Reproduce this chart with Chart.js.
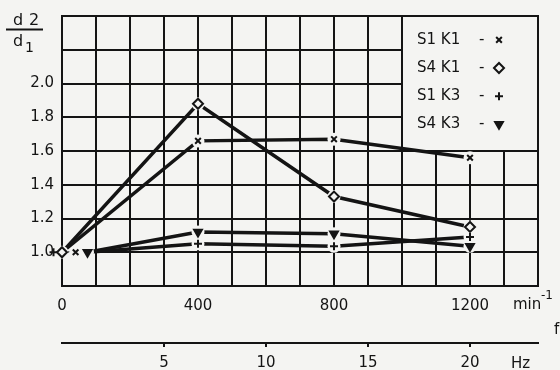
<!DOCTYPE html>
<html>
<head>
<meta charset="utf-8">
<title>d2/d1 over n</title>
<script src="https://cdn.jsdelivr.net/npm/chart.js@4.4.1/dist/chart.umd.min.js"></script>
<style>
  body { margin: 0; background: #f4f4f2; }
  #wrap { width: 560px; height: 370px; }
</style>
</head>
<body>
<div id="wrap"><canvas id="chart" width="560" height="370"></canvas></div>
<script>
// speed n in min^-1 (f in Hz = n / 60)
const rpm = [0, 400, 800, 1200];
const s1k1 = [1.0, 1.66, 1.67, 1.56];
const s4k1 = [1.0, 1.88, 1.33, 1.15];
const s1k3 = [1.0, 1.05, 1.035, 1.09];
const s4k3 = [1.0, 1.12, 1.11, 1.035];

// at n = 0 all four are 1.0, but in the drawing the symbols are spread out
// and the K3 lines only start right of them (read off in min^-1)
const lineStartRpm = { s1k1: 0, s4k1: 0, s1k3: 75, s4k3: 75 };
const markStartRpm = { s1k1: 40, s4k1: 0, s1k3: -25, s4k3: 75 };

const rpmLabels = [0, 400, 800, 1200];
const hzLabels = [5, 10, 15, 20];
const yLabels = [1.0, 1.2, 1.4, 1.6, 1.8, 2.0];
const seriesNames = ['S1 K1', 'S4 K1', 'S1 K3', 'S4 K3'];

const INK = '#141414';
const BG = '#f4f4f2';
const FONT = 'DejaVu Sans';

const series = [
  { key: 's1k1', vals: s1k1, pointStyle: 'crossRot', radius: 4, rotation: 0, fill: 'transparent' },
  { key: 's4k1', vals: s4k1, pointStyle: 'rectRot', radius: 5, rotation: 0, fill: 'transparent' },
  { key: 's1k3', vals: s1k3, pointStyle: 'cross', radius: 4, rotation: 0, fill: 'transparent' },
  { key: 's4k3', vals: s4k3, pointStyle: 'triangle', radius: 4.5, rotation: 180, fill: INK }
];

const datasets = [];
series.forEach(s => {
  const linePts = rpm.map((x, i) => ({ x: i === 0 ? lineStartRpm[s.key] : x, y: s.vals[i] }));
  // reversed so chart.js does not drop the symbol left of n = 0
  const markPts = rpm.map((x, i) => ({ x: i === 0 ? markStartRpm[s.key] : x, y: s.vals[i] })).reverse();
  datasets.push({
    data: linePts, showLine: true, borderColor: INK, borderWidth: 3.5,
    pointRadius: 0, order: 3
  });
  // paper coloured halo so the lines stop short of the symbols
  // (big hover radius only widens the in-area check so the symbol at n < 0 is drawn)
  datasets.push({
    data: markPts, showLine: false, pointStyle: 'circle', pointHoverRadius: 14,
    pointRadius: c => (c.raw && c.raw.x < 0 ? 0 : 6.5),
    pointBackgroundColor: BG, pointBorderWidth: 0, order: 2, clip: false
  });
  datasets.push({
    data: markPts, showLine: false, pointStyle: s.pointStyle, pointRadius: s.radius, pointHoverRadius: 14,
    pointRotation: s.rotation, pointBackgroundColor: s.fill, pointBorderColor: INK,
    pointBorderWidth: 2, order: 1, clip: false
  });
});

const paper = {
  id: 'paper',
  beforeDraw(chart) {
    const ctx = chart.ctx;
    ctx.save();
    ctx.fillStyle = BG;
    ctx.fillRect(0, 0, chart.width, chart.height);
    ctx.restore();
  },
  beforeDatasetsDraw(chart) {
    // key box in the upper right, sitting on the grid
    const ctx = chart.ctx;
    const area = chart.chartArea;
    const left = chart.scales.x.getPixelForValue(1000);
    const bottom = chart.scales.y.getPixelForValue(1.6);
    ctx.save();
    ctx.fillStyle = BG;
    ctx.fillRect(left, area.top, area.right - left, bottom - area.top);
    ctx.strokeStyle = INK;
    ctx.lineWidth = 2;
    ctx.strokeRect(left, area.top, area.right - left, bottom - area.top);
    ctx.font = '15px ' + FONT;
    ctx.textBaseline = 'middle';
    const rowH = (bottom - area.top) / 4.8;
    series.forEach((s, i) => {
      const yy = area.top + rowH * (0.85 + i * 1.0);
      ctx.fillStyle = INK;
      ctx.fillText(seriesNames[i], left + 15, yy);
      ctx.fillText('-', left + 77, yy);
      ctx.fillStyle = s.fill === 'transparent' ? BG : INK;
      ctx.strokeStyle = INK;
      ctx.lineWidth = 2;
      Chart.helpers.drawPoint(ctx, { pointStyle: s.pointStyle, radius: s.radius, rotation: s.rotation, borderWidth: 2 }, left + 97, yy);
    });
    ctx.restore();
  },
  afterDraw(chart) {
    const ctx = chart.ctx;
    ctx.save();
    ctx.fillStyle = INK;
    ctx.strokeStyle = INK;
    ctx.textBaseline = 'alphabetic';
    // d2 / d1
    ctx.font = '16px ' + FONT;
    ctx.fillText('d', 13, 25);
    ctx.fillText('2', 29, 25);
    ctx.lineWidth = 2;
    ctx.beginPath();
    ctx.moveTo(6, 29.5);
    ctx.lineTo(43, 29.5);
    ctx.stroke();
    ctx.fillText('d', 13, 46);
    ctx.font = '14px ' + FONT;
    ctx.fillText('1', 25, 52);
    // units
    ctx.font = '15px ' + FONT;
    ctx.fillText('min', 513, 309);
    ctx.font = '12px ' + FONT;
    ctx.fillText('-1', 541, 299);
    ctx.font = '15px ' + FONT;
    ctx.fillText('f', 554, 334);
    ctx.fillText('Hz', 511, 368);
    ctx.restore();
  }
};

new Chart(document.getElementById('chart'), {
  type: 'scatter',
  data: { datasets: datasets },
  options: {
    responsive: false,
    animation: false,
    events: [],
    layout: { padding: { top: 13, right: 22, left: 0, bottom: 0 } },
    plugins: { legend: { display: false }, tooltip: { enabled: false } },
    scales: {
      x: {
        type: 'linear', position: 'bottom', weight: 0, min: 0, max: 1400,
        afterFit: s => { s.height = 57; },
        grid: { color: INK, lineWidth: 2, drawTicks: false },
        border: { color: INK, width: 2 },
        ticks: {
          stepSize: 100, autoSkip: false, maxRotation: 0, padding: 11,
          color: INK, font: { family: FONT, size: 15 },
          callback: v => rpmLabels.includes(v) ? String(v) : ''
        }
      },
      hz: {
        type: 'linear', axis: 'x', position: 'bottom', weight: 1, min: 0, max: 1400 / 60,
        afterFit: s => { s.height = 27; },
        afterBuildTicks: s => { s.ticks = hzLabels.map(v => ({ value: v })); },
        grid: { drawOnChartArea: false, color: INK, lineWidth: 2, tickLength: 4 },
        border: { color: INK, width: 2 },
        ticks: {
          autoSkip: false, maxRotation: 0, padding: 7,
          color: INK, font: { family: FONT, size: 15 },
          callback: v => String(v)
        }
      },
      y: {
        type: 'linear', min: 0.8, max: 2.4,
        afterFit: s => { s.width = 62; s.paddingTop = 0; s.paddingBottom = 0; },
        grid: { color: INK, lineWidth: 2, drawTicks: false },
        border: { color: INK, width: 2 },
        ticks: {
          stepSize: 0.2, autoSkip: false, padding: 8,
          color: INK, font: { family: FONT, size: 15 },
          callback: v => {
            const r = Math.round(v * 10) / 10;
            return yLabels.includes(r) ? r.toFixed(1) : '';
          }
        }
      }
    }
  },
  plugins: [paper]
});
</script>
</body>
</html>
